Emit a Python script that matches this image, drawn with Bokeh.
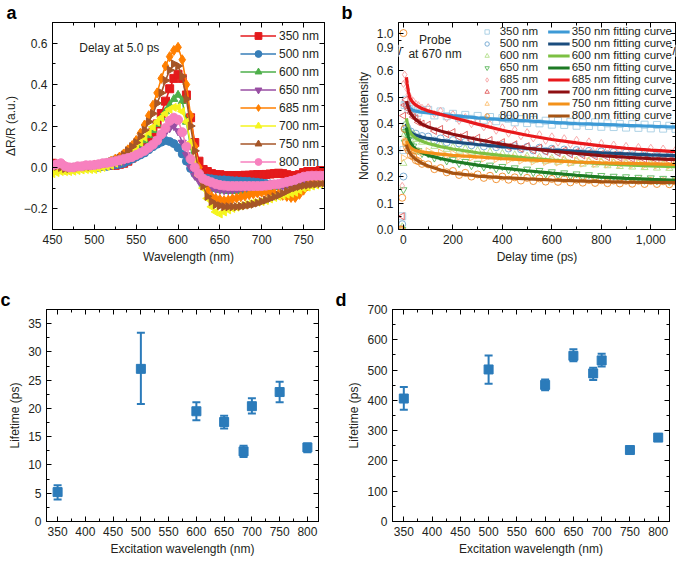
import numpy as np
from bokeh.plotting import figure
from bokeh.models import (ColumnDataSource, Legend, LegendItem, Label, LinearAxis, Range1d,
                          SingleIntervalTicker, FixedTicker, NumeralTickFormatter,
                          CustomJSTickFormatter, Whisker, TeeHead)
from bokeh.layouts import row, column
from bokeh.embed import file_html
from bokeh.resources import INLINE

FONT = "Liberation Sans"
TXT = "#231f20"

# ---------------- panel a data ----------------
wavelength = list(range(450, 780, 5))
a_labels = ["350 nm", "500 nm", "600 nm", "650 nm", "685 nm", "700 nm", "750 nm", "800 nm"]
a_350 = [0.02, 0.015, 0.01, 0.0, -0.005, -0.005, 0.0, 0.0, 0.005, 0.005,
         0.005, 0.005, 0.01, 0.01, 0.01, 0.01, 0.015, 0.02, 0.03, 0.045,
         0.06, 0.08, 0.10, 0.13, 0.17, 0.21, 0.26, 0.32, 0.38, 0.43,
         0.45, 0.43, 0.35, 0.24, 0.12, 0.03, -0.01, -0.02, -0.03, -0.035,
         -0.035, -0.04, -0.04, -0.04, -0.04, -0.04, -0.038, -0.038, -0.036, -0.035,
         -0.035, -0.034, -0.032, -0.03, -0.028, -0.03, -0.035, -0.04, -0.04, -0.035,
         -0.025, -0.02, -0.02, -0.02, -0.015, -0.015]
a_500 = [0.0, 0.0, 0.005, 0.0, -0.005, 0.0, 0.0, 0.0, 0.0, 0.0,
         0.0, 0.0, 0.005, 0.005, 0.01, 0.012, 0.015, 0.02, 0.03, 0.04,
         0.05, 0.06, 0.07, 0.085, 0.10, 0.112, 0.122, 0.13, 0.125, 0.115,
         0.095, 0.065, 0.03, -0.005, -0.03, -0.045, -0.05, -0.052, -0.055, -0.058,
         -0.06, -0.06, -0.062, -0.064, -0.065, -0.066, -0.067, -0.068, -0.07, -0.072,
         -0.075, -0.078, -0.08, -0.083, -0.085, -0.083, -0.08, -0.075, -0.068, -0.06,
         -0.052, -0.05, -0.05, -0.048, -0.045, -0.04]
a_600 = [0.0, -0.005, 0.0, -0.01, -0.01, -0.005, -0.005, 0.0, 0.0, 0.0,
         0.0, 0.005, 0.01, 0.015, 0.02, 0.025, 0.03, 0.04, 0.05, 0.065,
         0.085, 0.105, 0.13, 0.155, 0.18, 0.21, 0.24, 0.27, 0.30, 0.33,
         0.35, 0.32, 0.22, 0.1, 0.0, -0.05, -0.08, -0.095, -0.1, -0.105,
         -0.11, -0.112, -0.115, -0.115, -0.115, -0.115, -0.115, -0.113, -0.112, -0.11,
         -0.11, -0.105, -0.1, -0.095, -0.09, -0.088, -0.085, -0.082, -0.08, -0.075,
         -0.07, -0.065, -0.06, -0.055, -0.052, -0.05]
a_650 = [0.0, 0.0, 0.0, -0.005, -0.005, 0.0, 0.0, 0.0, 0.0, 0.0,
         0.0, 0.005, 0.01, 0.012, 0.015, 0.02, 0.025, 0.03, 0.04, 0.05,
         0.06, 0.07, 0.085, 0.1, 0.115, 0.13, 0.15, 0.17, 0.19, 0.2,
         0.175, 0.12, 0.06, 0.0, -0.04, -0.065, -0.08, -0.09, -0.1, -0.105,
         -0.108, -0.11, -0.11, -0.11, -0.108, -0.106, -0.104, -0.102, -0.1, -0.1,
         -0.098, -0.096, -0.094, -0.092, -0.09, -0.088, -0.085, -0.08, -0.075, -0.07,
         -0.065, -0.06, -0.058, -0.055, -0.05, -0.048]
a_685 = [0.005, 0.01, 0.0, -0.01, -0.01, -0.005, 0.0, 0.0, 0.005, 0.005,
         0.01, 0.012, 0.015, 0.02, 0.03, 0.04, 0.05, 0.065, 0.085, 0.105,
         0.13, 0.165, 0.205, 0.25, 0.3, 0.36, 0.43, 0.49, 0.535, 0.565,
         0.58, 0.52, 0.4, 0.25, 0.1, 0.0, -0.07, -0.11, -0.14, -0.15,
         -0.155, -0.16, -0.158, -0.152, -0.148, -0.142, -0.138, -0.132, -0.128, -0.124,
         -0.12, -0.118, -0.12, -0.125, -0.13, -0.135, -0.14, -0.145, -0.145, -0.13,
         -0.11, -0.09, -0.075, -0.065, -0.06, -0.055]
a_700 = [-0.03, -0.025, -0.02, -0.02, -0.02, -0.018, -0.015, -0.012, -0.01, -0.01,
         -0.01, -0.005, 0.0, 0.005, 0.01, 0.02, 0.03, 0.04, 0.055, 0.075,
         0.095, 0.12, 0.145, 0.17, 0.195, 0.22, 0.24, 0.26, 0.28, 0.29,
         0.29, 0.27, 0.22, 0.12, 0.03, -0.04, -0.1, -0.15, -0.19, -0.215,
         -0.225, -0.215, -0.205, -0.198, -0.192, -0.186, -0.18, -0.175, -0.17, -0.168,
         -0.165, -0.16, -0.152, -0.145, -0.14, -0.135, -0.13, -0.125, -0.12, -0.11,
         -0.1, -0.095, -0.09, -0.085, -0.08, -0.07]
a_750 = [0.0, 0.005, 0.0, -0.005, -0.005, 0.0, 0.0, 0.005, 0.005, 0.005,
         0.01, 0.012, 0.015, 0.02, 0.028, 0.036, 0.045, 0.06, 0.08, 0.1,
         0.12, 0.15, 0.18, 0.22, 0.26, 0.31, 0.36, 0.42, 0.47, 0.5,
         0.49, 0.44, 0.33, 0.2, 0.08, -0.02, -0.09, -0.14, -0.165, -0.18,
         -0.185, -0.19, -0.19, -0.19, -0.19, -0.188, -0.185, -0.182, -0.178, -0.172,
         -0.165, -0.158, -0.15, -0.142, -0.135, -0.125, -0.115, -0.105, -0.098, -0.092,
         -0.088, -0.085, -0.082, -0.08, -0.078, -0.075]
a_800 = [0.01, 0.015, 0.02, 0.005, 0.0, 0.0, 0.005, 0.005, 0.01, 0.01,
         0.012, 0.015, 0.02, 0.022, 0.025, 0.03, 0.035, 0.04, 0.045, 0.05,
         0.06, 0.07, 0.08, 0.095, 0.11, 0.13, 0.16, 0.19, 0.225, 0.24,
         0.23, 0.17, 0.1, 0.04, 0.0, -0.03, -0.055, -0.065, -0.072, -0.08,
         -0.085, -0.088, -0.09, -0.09, -0.09, -0.09, -0.09, -0.09, -0.09, -0.09,
         -0.09, -0.088, -0.085, -0.082, -0.08, -0.075, -0.07, -0.065, -0.06, -0.052,
         -0.045, -0.042, -0.04, -0.04, -0.04, -0.04]
a_series = [a_350, a_500, a_600, a_650, a_685, a_700, a_750, a_800]
a_colors = ["#e41a1c", "#377eb8", "#4daf4a", "#984ea3", "#ff7f00", "#f5f51e", "#a65628", "#f781bf"]
a_markers = ["square", "circle", "triangle", "inverted_triangle", "diamond", "triangle", "triangle", "circle"]
a_angles = [0, 0, 0, 0, 0, np.pi / 2, -np.pi / 2, 0]
a_sizes = [8, 8, 8, 8, 10, 8, 8, 9]

# ---------------- panel b data ----------------
b_labels = ["350 nm", "500 nm", "600 nm", "650 nm", "685 nm", "700 nm", "750 nm", "800 nm"]
t_data = [-10, -5, 0, 5, 10, 15, 20, 30, 40, 50, 60, 75] + list(range(100, 1101, 25))
d_350 = [0.0, 0.05, 0.30, 0.47, 0.49, 0.47, 0.455, 0.462, 0.446, 0.455, 0.441, 0.451,
         0.452, 0.431, 0.446, 0.428, 0.437, 0.421, 0.433, 0.418, 0.429, 0.414, 0.425, 0.409,
         0.421, 0.418, 0.405, 0.417, 0.402, 0.414, 0.401, 0.411, 0.396, 0.41, 0.395, 0.407,
         0.392, 0.404, 0.391, 0.405, 0.388, 0.401, 0.387, 0.399, 0.385, 0.398, 0.384, 0.396,
         0.382, 0.395, 0.381, 0.392, 0.38]
d_500 = [0.0, 0.02, 0.20, 0.38, 0.395, 0.385, 0.372, 0.37, 0.355, 0.362, 0.348, 0.353,
         0.351, 0.336, 0.344, 0.329, 0.338, 0.325, 0.331, 0.318, 0.327, 0.314, 0.322, 0.311,
         0.319, 0.306, 0.315, 0.303, 0.312, 0.299, 0.309, 0.297, 0.305, 0.294, 0.302, 0.29,
         0.3, 0.289, 0.297, 0.286, 0.295, 0.284, 0.293, 0.282, 0.291, 0.28, 0.289, 0.279,
         0.287, 0.277, 0.285, 0.276, 0.283]
d_600 = [0.0, 0.01, 0.25, 0.36, 0.40, 0.38, 0.37, 0.355, 0.36, 0.34, 0.345, 0.33,
         0.333, 0.314, 0.32, 0.303, 0.311, 0.296, 0.305, 0.29, 0.298, 0.284, 0.293, 0.278,
         0.287, 0.272, 0.282, 0.267, 0.277, 0.262, 0.273, 0.258, 0.269, 0.254, 0.265, 0.25,
         0.262, 0.247, 0.259, 0.244, 0.256, 0.241, 0.253, 0.238, 0.251, 0.236, 0.249, 0.234,
         0.247, 0.232, 0.245, 0.231, 0.243]
d_650 = [0.0, 0.0, 0.15, 0.33, 0.37, 0.36, 0.34, 0.32, 0.315, 0.30, 0.298, 0.287,
         0.286, 0.27, 0.274, 0.259, 0.265, 0.249, 0.257, 0.241, 0.25, 0.236, 0.243, 0.229,
         0.238, 0.225, 0.233, 0.219, 0.228, 0.215, 0.223, 0.21, 0.218, 0.206, 0.214, 0.202,
         0.21, 0.198, 0.207, 0.195, 0.204, 0.192, 0.201, 0.19, 0.199, 0.188, 0.197, 0.186,
         0.195, 0.184, 0.193, 0.182, 0.19]
d_685 = [0.0, 0.165, 0.55, 0.585, 0.56, 0.53, 0.51, 0.495, 0.485, 0.475, 0.47, 0.46,
         0.462, 0.436, 0.449, 0.42, 0.436, 0.41, 0.425, 0.398, 0.41, 0.386, 0.398, 0.373,
         0.386, 0.362, 0.378, 0.352, 0.368, 0.344, 0.36, 0.335, 0.352, 0.328, 0.345, 0.321,
         0.339, 0.315, 0.333, 0.309, 0.327, 0.304, 0.321, 0.3, 0.316, 0.296, 0.312, 0.293,
         0.309, 0.289, 0.306, 0.286, 0.302]
d_700 = [0.0, 0.05, 0.43, 0.47, 0.49, 0.47, 0.455, 0.44, 0.425, 0.42, 0.405, 0.4,
         0.396, 0.372, 0.38, 0.36, 0.368, 0.349, 0.358, 0.338, 0.347, 0.329, 0.338, 0.32,
         0.33, 0.312, 0.322, 0.305, 0.315, 0.299, 0.309, 0.294, 0.303, 0.289, 0.298, 0.284,
         0.293, 0.28, 0.289, 0.276, 0.285, 0.273, 0.282, 0.27, 0.279, 0.267, 0.276, 0.265,
         0.274, 0.262, 0.272, 0.26, 0.27]
d_750 = [0.0, 0.0, 0.27, 0.33, 0.335, 0.33, 0.32, 0.31, 0.305, 0.3, 0.295, 0.292,
         0.296, 0.283, 0.291, 0.279, 0.287, 0.275, 0.283, 0.272, 0.28, 0.268, 0.277, 0.266,
         0.274, 0.262, 0.271, 0.26, 0.269, 0.257, 0.266, 0.255, 0.264, 0.253, 0.262, 0.251,
         0.26, 0.249, 0.258, 0.248, 0.256, 0.246, 0.255, 0.245, 0.254, 0.244, 0.253, 0.243,
         0.252, 0.242, 0.251, 0.241, 0.25]
d_800 = [0.0, 0.12, 1.0, 0.38, 0.33, 0.31, 0.30, 0.28, 0.275, 0.262, 0.258, 0.248,
         0.246, 0.228, 0.232, 0.216, 0.221, 0.206, 0.214, 0.2, 0.208, 0.195, 0.203, 0.19,
         0.2, 0.188, 0.197, 0.185, 0.195, 0.183, 0.193, 0.181, 0.191, 0.18, 0.19, 0.178,
         0.188, 0.177, 0.187, 0.176, 0.186, 0.175, 0.185, 0.174, 0.184, 0.173, 0.184, 0.172,
         0.183, 0.172, 0.182, 0.171, 0.181]
b_data = [d_350, d_500, d_600, d_650, d_685, d_700, d_750, d_800]

t_fit = [12, 15, 20, 25, 30, 40, 50, 75, 100, 150, 200, 300, 400, 500, 600, 700, 800, 900, 1000, 1100]
f_350 = [0.48, 0.472, 0.465, 0.46, 0.455, 0.45, 0.447, 0.443, 0.44, 0.435, 0.43, 0.422, 0.415, 0.41, 0.405, 0.40, 0.397, 0.393, 0.39, 0.387]
f_500 = [0.40, 0.39, 0.38, 0.372, 0.367, 0.36, 0.356, 0.349, 0.344, 0.337, 0.331, 0.321, 0.313, 0.306, 0.30, 0.295, 0.29, 0.286, 0.282, 0.279]
f_600 = [0.42, 0.405, 0.385, 0.372, 0.363, 0.352, 0.345, 0.333, 0.325, 0.313, 0.304, 0.29, 0.279, 0.27, 0.262, 0.255, 0.249, 0.244, 0.24, 0.237]
f_650 = [0.385, 0.37, 0.35, 0.335, 0.325, 0.312, 0.303, 0.29, 0.28, 0.268, 0.258, 0.243, 0.232, 0.222, 0.213, 0.205, 0.198, 0.193, 0.189, 0.186]
f_685 = [0.575, 0.55, 0.52, 0.50, 0.49, 0.478, 0.47, 0.457, 0.448, 0.435, 0.423, 0.398, 0.375, 0.356, 0.34, 0.327, 0.316, 0.307, 0.30, 0.294]
f_700 = [0.485, 0.475, 0.46, 0.447, 0.437, 0.425, 0.415, 0.398, 0.387, 0.372, 0.36, 0.34, 0.322, 0.307, 0.296, 0.287, 0.279, 0.273, 0.268, 0.264]
f_750 = [0.335, 0.328, 0.32, 0.313, 0.308, 0.302, 0.298, 0.293, 0.29, 0.285, 0.28, 0.274, 0.268, 0.263, 0.259, 0.255, 0.252, 0.25, 0.248, 0.246]
f_800 = [0.32, 0.31, 0.30, 0.29, 0.283, 0.273, 0.265, 0.25, 0.24, 0.225, 0.213, 0.202, 0.196, 0.191, 0.187, 0.184, 0.181, 0.179, 0.178, 0.177]
b_fits = [f_350, f_500, f_600, f_650, f_685, f_700, f_750, f_800]
b_fit_labels = [l + " fitting curve" for l in b_labels]
b_data_colors = ["#a6cee3", "#6fa6d0", "#b2df8a", "#5cb85c", "#f7a3a3", "#e05a5a", "#fdc070", "#f08a24"]
b_fit_colors = ["#3d9ad6", "#1b4d7e", "#7cc043", "#1d7a24", "#e8191c", "#8e0f12", "#f3911a", "#a65413"]
b_markers = ["square", "circle", "triangle", "inverted_triangle", "diamond", "triangle", "triangle", "circle"]
b_angles = [0, 0, 0, 0, 0, np.pi / 2, -np.pi / 2, 0]
b_ticks_low = [0.0, 0.1, 0.2, 0.3, 0.4, 0.5, 0.6]
b_ticks_high = [0.9, 1.0]

# ---------------- panels c, d data ----------------
exc_wl = [350, 500, 600, 650, 685, 700, 750, 800]
tau_short = [5.2, 27.0, 19.5, 17.6, 12.4, 20.4, 22.9, 13.1]
tau_short_lo = [3.9, 20.8, 17.9, 16.45, 11.4, 19.1, 21.1, 12.25]
tau_short_hi = [6.4, 33.4, 21.1, 18.7, 13.4, 21.8, 24.7, 13.8]
tau_long = [406, 502, 451, 547, 489, 532, 236, 277]
tau_long_lo = [369, 455, 433, 529, 467, 512, 227, 268]
tau_long_hi = [444, 548, 469, 569, 508, 554, 243, 287]
CD_COLOR = "#2b7bba"


def blank():
    return CustomJSTickFormatter(code="return ''")


def dress(p, letter, letter_offset, xticker, yticker, xlabel, ylabel, xfmt=None, yfmt=None):
    p.xgrid.visible = False
    p.ygrid.visible = False
    p.outline_line_color = "black"
    p.outline_line_width = 1
    p.title.text = letter
    p.title.align = "left"
    p.title.offset = letter_offset
    p.title.standoff = 0
    p.title.text_font = FONT
    p.title.text_font_size = "18px"
    p.title.text_font_style = "bold"
    p.title.text_color = "black"
    bx = p.xaxis[0]
    ly = p.yaxis[0]
    bx.ticker = xticker
    ly.ticker = yticker
    if xfmt is not None:
        bx.formatter = xfmt
    if yfmt is not None:
        ly.formatter = yfmt
    bx.axis_label = xlabel
    ly.axis_label = ylabel
    top = LinearAxis(ticker=xticker, formatter=blank())
    right = LinearAxis(ticker=yticker, formatter=blank())
    p.add_layout(top, "above")
    p.add_layout(right, "right")
    for ax in [bx, ly, top, right]:
        ax.axis_line_color = "black"
        ax.major_tick_line_color = "black"
        ax.minor_tick_line_color = "black"
        ax.major_tick_in = 5
        ax.major_tick_out = 0
        ax.minor_tick_in = 3
        ax.minor_tick_out = 0
        ax.major_label_text_font = FONT
        ax.major_label_text_font_size = "12px"
        ax.major_label_text_color = TXT
        ax.axis_label_text_font = FONT
        ax.axis_label_text_font_size = "12px"
        ax.axis_label_text_font_style = "normal"
        ax.axis_label_text_color = TXT
        ax.major_label_standoff = 5
        ax.axis_label_standoff = 3
    for ax in [top, right]:
        ax.major_label_text_font_size = "0px"
        ax.major_label_standoff = 0
        ax.axis_label_standoff = 0


def make_fig(xr, yr, fw, fh, left, right, top, bottom):
    return figure(frame_width=fw, frame_height=fh, x_range=xr, y_range=yr,
                  output_backend="svg", toolbar_location=None,
                  min_border_left=left, min_border_right=right,
                  min_border_top=top, min_border_bottom=bottom)


# ---------------- panel a ----------------
pa = make_fig(Range1d(450, 775), Range1d(-0.3, 0.7), 272, 207, 46, 14, 17, 44)
dress(pa, "a", -46, SingleIntervalTicker(interval=50, num_minor_ticks=2),
      SingleIntervalTicker(interval=0.2, num_minor_ticks=2),
      "Wavelength (nm)", "\u0394R/R (a.u.)",
      yfmt=CustomJSTickFormatter(code="return tick.toFixed(1).replace('-', '\u2212')"))
items_a = []
for lab, vals, col, mk, ang, sz in zip(a_labels, a_series, a_colors, a_markers, a_angles, a_sizes):
    src = ColumnDataSource(dict(x=wavelength, y=vals))
    ln = pa.line("x", "y", source=src, line_color=col, line_width=1.6)
    sc = pa.scatter("x", "y", source=src, marker=mk, angle=ang, size=sz, fill_color=col, line_color=col)
    items_a.append(LegendItem(label=lab, renderers=[ln, sc]))
leg_a = Legend(items=items_a, location="top_right", label_text_font=FONT, label_text_font_size="12px",
               label_text_color=TXT, glyph_width=36, glyph_height=17, label_height=17, spacing=1,
               padding=2, margin=3, label_standoff=3, background_fill_alpha=0, border_line_alpha=0)
pa.add_layout(leg_a)
pa.add_layout(Label(x=482, y=0.578, text="Delay at 5.0 ps", text_font=FONT, text_font_size="12px",
                    text_color=TXT, text_baseline="middle"))

# ---------------- panel b ----------------
def ybrk(v):
    return v if v <= 0.65 else 0.687 + (v - 0.9) * 0.55


pb = make_fig(Range1d(-20, 1100), Range1d(0, 0.782), 277, 207, 60, 8, 17, 44)
ticks_b = [ybrk(v) for v in b_ticks_low + b_ticks_high]
minor_b = [ybrk(v) for v in [0.05, 0.15, 0.25, 0.35, 0.45, 0.55, 0.95]]
overrides = {ybrk(v): "%.1f" % v for v in b_ticks_low + b_ticks_high}
dress(pb, "b", -57, SingleIntervalTicker(interval=200, num_minor_ticks=2),
      FixedTicker(ticks=ticks_b, minor_ticks=minor_b),
      "Delay time (ps)", "Normalized intensity",
      xfmt=NumeralTickFormatter(format="0,0"))
pb.yaxis[0].major_label_overrides = overrides
data_items, fit_items = [], []
for lab, vals, col, mk, ang in zip(b_labels, b_data, b_data_colors, b_markers, b_angles):
    src = ColumnDataSource(dict(x=t_data, y=[ybrk(v) for v in vals]))
    sc = pb.scatter("x", "y", source=src, marker=mk, angle=ang, size=7, fill_color=None,
                    line_color=col, line_width=0.9)
    data_items.append(LegendItem(label=lab, renderers=[sc]))
for lab, vals, col in zip(b_fit_labels, b_fits, b_fit_colors):
    src = ColumnDataSource(dict(x=t_fit, y=vals))
    ln = pb.line("x", "y", source=src, line_color=col, line_width=3.2)
    fit_items.append(LegendItem(label=lab, renderers=[ln]))
leg_b = Legend(items=data_items + fit_items, ncols=2, location="top_right",
               label_text_font=FONT, label_text_font_size="11.5px", label_text_color=TXT,
               glyph_width=22, glyph_height=11, label_height=11, label_width=48,
               spacing=0, padding=0, margin=3,
               label_standoff=2, background_fill_alpha=0, border_line_alpha=0)
pb.add_layout(leg_b)
pb.add_layout(Label(x=128, y=0.716, text="Probe", text_font=FONT, text_font_size="12px",
                    text_color=TXT, text_align="center", text_baseline="middle"))
pb.add_layout(Label(x=128, y=0.662, text="at 670 nm", text_font=FONT, text_font_size="12px",
                    text_color=TXT, text_align="center", text_baseline="middle"))
for xb in (-20, 1100):
    pb.add_layout(Label(x=xb, y=0.675, text="//", text_font=FONT, text_font_size="11px",
                        text_color="black", text_align="center", text_baseline="middle",
                        background_fill_color="white"))

# ---------------- panels c, d ----------------
def lifetime_panel(letter, off, vals, lo, hi, yr, yint, fw, left, right):
    p = make_fig(Range1d(330, 820), Range1d(0, yr), fw, 212, left, right, 36, 36)
    dress(p, letter, off, SingleIntervalTicker(interval=50, num_minor_ticks=2),
          SingleIntervalTicker(interval=yint, num_minor_ticks=2),
          "Excitation wavelength (nm)", "Lifetime (ps)")
    src = ColumnDataSource(dict(x=exc_wl, y=vals, lo=lo, hi=hi))
    w = Whisker(source=src, base="x", lower="lo", upper="hi", line_color=CD_COLOR, line_width=2,
                upper_head=TeeHead(size=8, line_color=CD_COLOR, line_width=2),
                lower_head=TeeHead(size=8, line_color=CD_COLOR, line_width=2))
    p.add_layout(w)
    p.scatter("x", "y", source=src, marker="square", size=9, fill_color=CD_COLOR, line_color=CD_COLOR)
    return p


pc = lifetime_panel("c", -46, tau_short, tau_short_lo, tau_short_hi, 37.5, 5, 272, 46, 14)
pd_ = lifetime_panel("d", -57, tau_long, tau_long_lo, tau_long_hi, 700, 100, 277, 60, 8)

layout = column(row(pa, pb), row(pc, pd_))
open("out.html", "w").write(file_html(layout, INLINE))
